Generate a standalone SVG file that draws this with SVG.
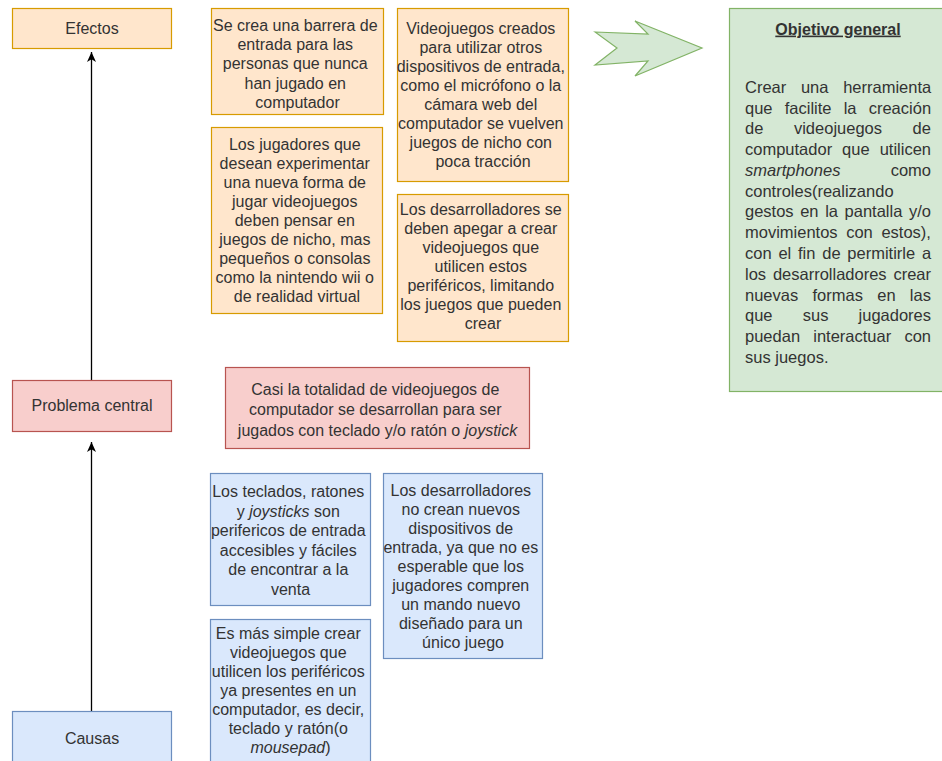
<svg xmlns="http://www.w3.org/2000/svg" width="942" height="761" viewBox="0 0 942 761">
<style>
text{font-family:"Liberation Sans",Arial,sans-serif;font-size:16px;fill:#333}
.c{text-anchor:middle}
.o{fill:#ffe6cc;stroke:#d79b00;stroke-width:1.2}
.r{fill:#f8cecc;stroke:#b85450;stroke-width:1.2}
.b{fill:#dae8fc;stroke:#6c8ebf;stroke-width:1.2}
.g{fill:#d5e8d4;stroke:#82b366;stroke-width:1.2}
.gt{font-size:16.5px}
.edge{stroke:#000;stroke-width:1.3;fill:none;marker-end:url(#ah)}
</style>
<defs>
<marker id="ah" markerUnits="userSpaceOnUse" markerWidth="11" markerHeight="11" viewBox="0 0 11 11" refX="10" refY="5.5" orient="auto">
<path d="M0,1 L10,5.5 L0,10 L2.8,5.5 Z" fill="#000"/>
</marker>
</defs>
<rect width="942" height="761" fill="#fff"/>

<g id="connectors">
<line class="edge" x1="91.5" y1="711" x2="91.5" y2="442"/>
<line class="edge" x1="91.5" y1="380" x2="91.5" y2="52"/>
</g>

<g id="efectos">
<rect class="o" x="12.5" y="8.5" width="159" height="40"/>
<text class="c" x="92" y="33.6">Efectos</text>
</g>

<g id="efecto1">
<rect class="o" x="211.5" y="8.5" width="172" height="106"/>
<text class="c" x="297.5">
<tspan x="297.5" y="30.6">Se crea una barrera de</tspan>
<tspan x="297.5" y="49.9">entrada para las</tspan>
<tspan x="297.5" y="69.2">personas que nunca</tspan>
<tspan x="297.5" y="88.5">han jugado en</tspan>
<tspan x="297.5" y="107.8">computador</tspan>
</text>
</g>

<g id="efecto2">
<rect class="o" x="397.5" y="8.5" width="171" height="173"/>
<text class="c">
<tspan x="483" y="33.6">Videojuegos creados</tspan>
<tspan x="483" y="52.7">para utilizar otros</tspan>
<tspan x="483" y="71.8">dispositivos de entrada,</tspan>
<tspan x="483" y="90.9">como el micrófono o la</tspan>
<tspan x="483" y="110">cámara web del</tspan>
<tspan x="483" y="129.1">computador se vuelven</tspan>
<tspan x="483" y="148.2">juegos de nicho con</tspan>
<tspan x="483" y="167.3">poca tracción</tspan>
</text>
</g>

<g id="efecto3">
<rect class="o" x="211.5" y="127.5" width="171" height="186"/>
<text class="c">
<tspan x="297" y="149.6">Los jugadores que</tspan>
<tspan x="297" y="168.7">desean experimentar</tspan>
<tspan x="297" y="187.8">una nueva forma de</tspan>
<tspan x="297" y="206.9">jugar videojuegos</tspan>
<tspan x="297" y="226">deben pensar en</tspan>
<tspan x="297" y="245.1">juegos de nicho, mas</tspan>
<tspan x="297" y="264.2">pequeños o consolas</tspan>
<tspan x="297" y="283.3">como la nintendo wii o</tspan>
<tspan x="297" y="302.4">de realidad virtual</tspan>
</text>
</g>

<g id="efecto4">
<rect class="o" x="397.5" y="194.5" width="171" height="147"/>
<text class="c">
<tspan x="483" y="214.6">Los desarrolladores se</tspan>
<tspan x="483" y="233.6">deben apegar a crear</tspan>
<tspan x="483" y="252.6">videojuegos que</tspan>
<tspan x="483" y="271.6">utilicen estos</tspan>
<tspan x="483" y="290.6">periféricos, limitando</tspan>
<tspan x="483" y="309.6">los juegos que pueden</tspan>
<tspan x="483" y="328.6">crear</tspan>
</text>
</g>

<g id="flecha">
<polygon points="595,32 648,34 635,21 702,48 635,76 648,61 595,65 617,48" fill="#d5e8d4" stroke="#82b366" stroke-width="1.2" stroke-linejoin="miter"/>
</g>

<g id="objetivo">
<rect class="g" x="729.5" y="8.5" width="218" height="383"/>
<text class="c" x="838" y="34.6" font-weight="bold" text-decoration="underline">Objetivo general</text>
<text class="gt" x="745" y="92.8" word-spacing="10.1">Crear una herramienta</text>
<text class="gt" x="745" y="113.6" word-spacing="7.6">que facilite la creación</text>
<text class="gt" x="745" y="134.3" word-spacing="26">de videojuegos de</text>
<text class="gt" x="745" y="155.1" word-spacing="5.4">computador que utilicen</text>
<text class="gt" x="745" y="175.9" word-spacing="45.7"><tspan font-style="italic">smartphones</tspan> como</text>
<text class="gt" x="745" y="196.6">controles(realizando</text>
<text class="gt" x="745" y="217.4" word-spacing="2">gestos en la pantalla y/o</text>
<text class="gt" x="745" y="238.2" word-spacing="4">movimientos con estos),</text>
<text class="gt" x="745" y="259" word-spacing="2.2">con el fin de permitirle a</text>
<text class="gt" x="745" y="279.7" word-spacing="2.2">los desarrolladores crear</text>
<text class="gt" x="745" y="300.5" word-spacing="9.7">nuevas formas en las</text>
<text class="gt" x="745" y="321.3" word-spacing="25.6">que sus jugadores</text>
<text class="gt" x="745" y="342" word-spacing="8.6">puedan interactuar con</text>
<text class="gt" x="745" y="362.8">sus juegos.</text>
</g>

<g id="problema">
<rect class="r" x="12.5" y="380.5" width="159" height="51"/>
<text class="c" x="92" y="411.3">Problema central</text>
</g>

<g id="problema-desc">
<rect class="r" x="225.5" y="367.5" width="304" height="81"/>
<text class="c">
<tspan x="377.5" y="395">Casi la totalidad de videojuegos de</tspan>
<tspan x="377.5" y="415.3">computador se desarrollan para ser</tspan>
<tspan x="377.5" y="435.6">jugados con teclado y/o ratón o <tspan font-style="italic">joystick</tspan></tspan>
</text>
</g>

<g id="causa1">
<rect class="b" x="210.5" y="473.5" width="160" height="132"/>
<text class="c">
<tspan x="290.5" y="497.3">Los teclados, ratones</tspan>
<tspan x="290.5" y="516.8">y <tspan font-style="italic">joysticks</tspan> son</tspan>
<tspan x="290.5" y="536.3">perifericos de entrada</tspan>
<tspan x="290.5" y="555.8">accesibles y fáciles</tspan>
<tspan x="290.5" y="575.3">de encontrar a la</tspan>
<tspan x="290.5" y="594.8">venta</tspan>
</text>
</g>

<g id="causa2">
<rect class="b" x="383.5" y="473.5" width="159" height="185"/>
<text class="c">
<tspan x="463" y="495.6">Los desarrolladores</tspan>
<tspan x="463" y="514.7">no crean nuevos</tspan>
<tspan x="463" y="533.8">dispositivos de</tspan>
<tspan x="463" y="552.9">entrada, ya que no es</tspan>
<tspan x="463" y="572">esperable que los</tspan>
<tspan x="463" y="591.1">jugadores compren</tspan>
<tspan x="463" y="610.2">un mando nuevo</tspan>
<tspan x="463" y="629.3">diseñado para un</tspan>
<tspan x="463" y="648.4">único juego</tspan>
</text>
</g>

<g id="causa3">
<rect class="b" x="210.5" y="619.5" width="160" height="150"/>
<text class="c">
<tspan x="290.5" y="638.6">Es más simple crear</tspan>
<tspan x="290.5" y="657.6">videojuegos que</tspan>
<tspan x="290.5" y="676.6">utilicen los periféricos</tspan>
<tspan x="290.5" y="695.6">ya presentes en un</tspan>
<tspan x="290.5" y="714.6">computador, es decir,</tspan>
<tspan x="290.5" y="733.6">teclado y ratón(o</tspan>
<tspan x="290.5" y="752.6"><tspan font-style="italic">mousepad</tspan>)</tspan>
</text>
</g>

<g id="causas">
<rect class="b" x="12.5" y="711.5" width="159" height="60"/>
<text class="c" x="92" y="743.6">Causas</text>
</g>
</svg>
